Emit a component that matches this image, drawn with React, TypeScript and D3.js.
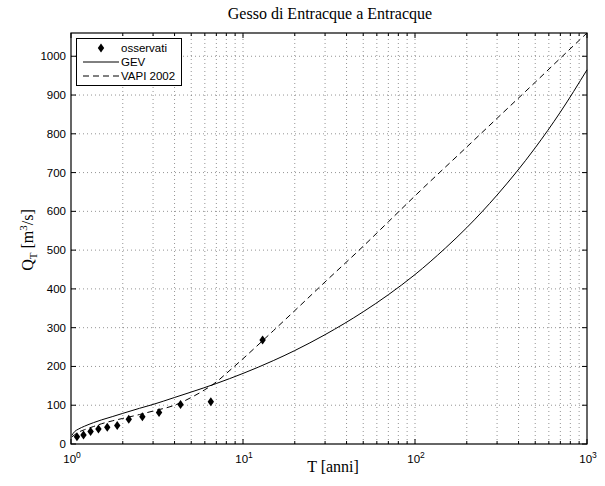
import React from "react";
import * as d3 from "d3";

// Observed (Weibull plotting positions)
const obsT = [13, 6.5, 4.333, 3.25, 2.6, 2.167, 1.857, 1.625, 1.444, 1.3, 1.182, 1.083];
const obsQ = [268, 109, 102, 81, 70, 64, 48, 43, 39, 32, 23, 19];

// GEV curve
const gevT = [1.01, 1.05, 1.1, 1.2, 1.35, 1.5, 1.75, 2, 2.5, 3, 4, 5, 7, 10, 15, 20, 30, 50, 70, 100, 150, 200, 300, 500, 700, 1000];
const gevQ = [22, 32, 38, 46, 55, 62, 71, 79, 92, 102, 120, 134, 156, 182, 215, 241, 282, 341, 385, 437, 505, 558, 642, 764, 856, 965];

// VAPI 2002 curve
const vapiT = [1.01, 1.1, 1.2, 1.35, 1.5, 1.75, 2, 2.5, 3, 4, 5, 6, 7, 8, 10, 15, 20, 30, 50, 70, 100, 200, 300, 500, 700, 1000];
const vapiQ = [18, 30, 37, 45, 52, 60, 66, 76, 85, 100, 120, 140, 160, 182, 220, 292, 344, 418, 510, 573, 640, 766, 840, 933, 995, 1060];

const yTicks = [0, 100, 200, 300, 400, 500, 600, 700, 800, 900, 1000];
const xDecades = [0, 1, 2, 3];
const legendLabels = ["osservati", "GEV", "VAPI 2002"];

const W = 605, H = 486;
const L = 71, R = 587, T0 = 33, B = 444;
const SANS = "'Liberation Sans', Arial, Helvetica, sans-serif";
const SERIF = "'Liberation Serif', 'Times New Roman', serif";

export default function App() {
  const x = d3.scaleLog().domain([1, 1000]).range([L, R]);
  const y = d3.scaleLinear().domain([0, 1060]).range([B, T0]);

  const line = d3
    .line<[number, number]>()
    .x((d) => x(d[0]))
    .y((d) => y(d[1]))
    .curve(d3.curveMonotoneX);

  const gevData: [number, number][] = gevT.map((t, i) => [t, gevQ[i]]);
  const vapiData: [number, number][] = vapiT.map((t, i) => [t, vapiQ[i]]);

  const minorVals: number[] = [];
  for (let d = 0; d < 3; d++) {
    for (let k = 1; k <= 9; k++) minorVals.push(k * Math.pow(10, d));
  }
  minorVals.push(1000);

  const diamond = "M0,-4.5L3.2,0L0,4.5L-3.2,0Z";

  return (
    <svg width={W} height={H} style={{ position: "absolute", left: 0, top: 0, background: "#fff" }}>
      <rect x={0} y={0} width={W} height={H} fill="#fff" />
      {/* grid */}
      <g stroke="#000" strokeWidth={0.6} strokeDasharray="1,3" opacity={0.7}>
        {minorVals
          .filter((v) => v > 1 && v < 1000)
          .map((v, i) => (
            <line key={"gx" + i} x1={x(v)} x2={x(v)} y1={B} y2={T0} />
          ))}
        {yTicks
          .filter((v) => v > 0)
          .map((v, i) => (
            <line key={"gy" + i} x1={L} x2={R} y1={y(v)} y2={y(v)} />
          ))}
      </g>
      {/* ticks */}
      <g stroke="#000" strokeWidth={1}>
        {minorVals.map((v, i) => {
          const major = Math.log10(v) % 1 === 0;
          const len = major ? 5 : 3;
          return (
            <g key={"tx" + i}>
              <line x1={x(v)} x2={x(v)} y1={B} y2={B - len} />
              <line x1={x(v)} x2={x(v)} y1={T0} y2={T0 + len} />
            </g>
          );
        })}
        {yTicks.map((v, i) => (
          <g key={"ty" + i}>
            <line x1={L} x2={L + 5} y1={y(v)} y2={y(v)} />
            <line x1={R} x2={R - 5} y1={y(v)} y2={y(v)} />
          </g>
        ))}
      </g>
      {/* curves */}
      <path d={line(gevData) || ""} fill="none" stroke="#000" strokeWidth={1} />
      <path d={line(vapiData) || ""} fill="none" stroke="#000" strokeWidth={1} strokeDasharray="6,4" />
      {/* observed */}
      {obsT.map((t, i) => (
        <path key={"o" + i} d={diamond} transform={`translate(${x(t)},${y(obsQ[i])})`} fill="#000" />
      ))}
      {/* frame */}
      <rect x={L} y={T0} width={R - L} height={B - T0} fill="none" stroke="#000" strokeWidth={1.2} />
      {/* y tick labels */}
      <g fontFamily={SANS} fontSize={11.5} fill="#000">
        {yTicks.map((v, i) => (
          <text key={"yl" + i} x={L - 5} y={y(v)} dy="0.35em" textAnchor="end">
            {v}
          </text>
        ))}
        {xDecades.map((e, i) => (
          <text key={"xl" + i} x={x(Math.pow(10, e)) + 1} y={463} textAnchor="middle">
            10
            <tspan dy={-5} fontSize={8.5}>
              {e}
            </tspan>
          </text>
        ))}
      </g>
      {/* title & labels */}
      <text x={330} y={19} textAnchor="middle" fontFamily={SERIF} fontSize={16} fill="#000">
        Gesso di Entracque a Entracque
      </text>
      <text x={333} y={472} textAnchor="middle" fontFamily={SERIF} fontSize={16} fill="#000">
        T [anni]
      </text>
      <text
        transform={`translate(33,240) rotate(-90)`}
        textAnchor="middle"
        fontFamily={SERIF}
        fontSize={16}
        fill="#000"
      >
        Q
        <tspan dy={4} fontSize={11}>T</tspan>
        <tspan dy={-4}> [m</tspan>
        <tspan dy={-6} fontSize={11}>3</tspan>
        <tspan dy={6}>/s]</tspan>
      </text>
      {/* legend */}
      <g>
        <rect x={76.5} y={38.5} width={105} height={47} fill="#fff" stroke="#000" strokeWidth={1} />
        <path d={diamond} transform="translate(101,48)" fill="#000" />
        <line x1={83} x2={119} y1={62} y2={62} stroke="#000" strokeWidth={1} />
        <line x1={83} x2={119} y1={76} y2={76} stroke="#000" strokeWidth={1} strokeDasharray="6,4" />
        <g fontFamily={SANS} fontSize={11.5} fill="#000">
          {legendLabels.map((s, i) => (
            <text key={"lg" + i} x={121} y={48 + i * 14} dy="0.35em">
              {s}
            </text>
          ))}
        </g>
      </g>
    </svg>
  );
}
